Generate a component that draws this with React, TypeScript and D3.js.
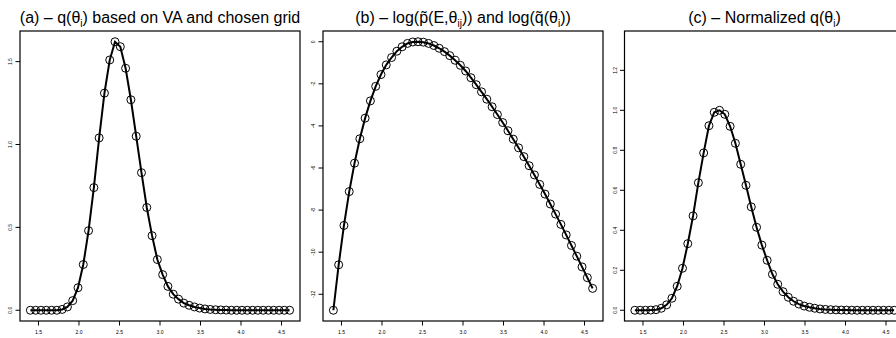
import React from "react";
import * as d3 from "d3";

// grid of theta values (50 points from 1.4 to 4.6)
const N = 50;
const thetaMin = 1.4;
const thetaMax = 4.6;
const theta: number[] = d3.range(N).map((i) => thetaMin + (i * (thetaMax - thetaMin)) / (N - 1));

// (a) q(theta_i) from VA on grid
const qVA: number[] = [
  0, 0, 0, 0, 0, 0, 0.005, 0.02, 0.058, 0.136,
  0.276, 0.48, 0.74, 1.04, 1.31, 1.51, 1.62, 1.59, 1.46, 1.27,
  1.05, 0.83, 0.62, 0.45, 0.306, 0.215, 0.144, 0.097, 0.067, 0.043,
  0.03, 0.02, 0.013, 0.008, 0.005, 0.003, 0.002, 0.001, 0, 0,
  0, 0, 0, 0, 0, 0, 0, 0, 0, 0,
];

// (b) log p~(E, theta_ij) and log q~(theta_i)
const logP: number[] = [
  -12.76, -10.6, -8.73, -7.12, -5.77, -4.61, -3.63, -2.81, -2.12, -1.56,
  -1.1, -0.75, -0.45, -0.24, -0.08, -0.01, 0.0, -0.02, -0.08, -0.18,
  -0.31, -0.47, -0.66, -0.88, -1.12, -1.39, -1.71, -2.04, -2.38, -2.73,
  -3.09, -3.46, -3.84, -4.23, -4.63, -5.04, -5.46, -5.89, -6.33, -6.78,
  -7.24, -7.71, -8.19, -8.68, -9.18, -9.68, -10.19, -10.7, -11.21, -11.72,
];
const logQ: number[] = logP.slice();

// (c) normalized q(theta_i)
const qNorm: number[] = [
  0, 0, 0, 0.001, 0.003, 0.01, 0.027, 0.06, 0.12, 0.21,
  0.333, 0.472, 0.638, 0.787, 0.923, 0.99, 1.0, 0.98, 0.92, 0.835,
  0.73, 0.625, 0.517, 0.415, 0.326, 0.25, 0.18, 0.13, 0.093, 0.065,
  0.045, 0.031, 0.021, 0.015, 0.01, 0.0065, 0.0042, 0.0028, 0.0018, 0.0011,
  0.0007, 0.0004, 0, 0, 0, 0, 0, 0, 0, 0,
];

const xTicks = [1.5, 2.0, 2.5, 3.0, 3.5, 4.0, 4.5];
const yTicksA = [0, 0.5, 1.0, 1.5];
const yTicksB = [0, -2, -4, -6, -8, -10, -12];
const yTicksC = [0, 0.2, 0.4, 0.6, 0.8, 1.0, 1.2];
const yLimC: [number, number] = [0, 1.343];

const W = 896;
const H = 338;
const TOP = 31;
const BOTTOM = 321;
const PW = 280;
const LEFTS = [20, 323, 624.5];
const FONT = "Liberation Sans, Arial, Helvetica, sans-serif";

function expand(lo: number, hi: number): [number, number] {
  const r = hi - lo;
  return [lo - 0.04 * r, hi + 0.04 * r];
}

type PanelProps = {
  left: number;
  title: React.ReactNode;
  yDomain: [number, number];
  yTicks: number[];
  yFmt: (v: number) => string;
  pts: number[];
  line: number[];
};

function Panel({ left, title, yDomain, yTicks, yFmt, pts, line }: PanelProps) {
  const x = d3.scaleLinear().domain(expand(thetaMin, thetaMax)).range([left, left + PW]);
  const y = d3.scaleLinear().domain(yDomain).range([BOTTOM, TOP]);
  const lineGen = d3
    .line<number>()
    .x((_, i) => x(theta[i]))
    .y((d) => y(d));
  const clipId = `clip-${Math.round(left)}`;
  return (
    <g>
      <defs>
        <clipPath id={clipId}>
          <rect x={left} y={TOP} width={PW} height={BOTTOM - TOP} />
        </clipPath>
      </defs>
      <text x={left + PW / 2} y={23} textAnchor="middle" fontSize={16} fontFamily={FONT} fill="#000">
        {title}
      </text>
      <g clipPath={`url(#${clipId})`}>
        <path d={lineGen(line) || ""} fill="none" stroke="#000" strokeWidth={2} />
        {pts.map((v, i) => (
          <circle key={i} cx={x(theta[i])} cy={y(v)} r={4} fill="none" stroke="#000" strokeWidth={1} />
        ))}
      </g>
      <rect x={left} y={TOP} width={PW} height={BOTTOM - TOP} fill="none" stroke="#000" strokeWidth={1.2} />
      {xTicks.map((t) => (
        <g key={t}>
          <line x1={x(t)} x2={x(t)} y1={BOTTOM} y2={BOTTOM + 4.5} stroke="#000" strokeWidth={1} />
          <text x={x(t)} y={334} textAnchor="middle" fontSize={5} fontFamily={FONT} fill="#000">
            {t.toFixed(1)}
          </text>
        </g>
      ))}
      {yTicks.map((t) => (
        <g key={t}>
          <line x1={left - 4.5} x2={left} y1={y(t)} y2={y(t)} stroke="#000" strokeWidth={1} />
          <text
            transform={`translate(${left - 8},${y(t)}) rotate(-90)`}
            textAnchor="middle"
            fontSize={5}
            fontFamily={FONT}
            fill="#000"
          >
            {yFmt(t)}
          </text>
        </g>
      ))}
    </g>
  );
}

const sub = (s: string) => (
  <tspan fontSize={10} dy={3.5}>
    {s}
  </tspan>
);
const up = (s: string) => <tspan dy={-3.5}>{s}</tspan>;

export default function App() {
  const aMax = d3.max(qVA) as number;
  const bExt = d3.extent([...logP, ...logQ]) as [number, number];
  return (
    <svg width={W} height={H} style={{ position: "absolute", left: 0, top: 0, background: "#fff" }}>
      <rect width={W} height={H} fill="#fff" />
      <Panel
        left={LEFTS[0]}
        title={
          <>
            (a) – q(θ{sub("i")}
            {up(") based on VA and chosen grid")}
          </>
        }
        yDomain={expand(0, aMax)}
        yTicks={yTicksA}
        yFmt={(v) => v.toFixed(1)}
        pts={qVA}
        line={qVA}
      />
      <Panel
        left={LEFTS[1]}
        title={
          <>
            (b) – log(p̃(E,θ{sub("ij")}
            {up(")) and log(q̃(θ")}
            {sub("i")}
            {up("))")}
          </>
        }
        yDomain={expand(bExt[0], bExt[1])}
        yTicks={yTicksB}
        yFmt={(v) => String(v)}
        pts={logP}
        line={logQ}
      />
      <Panel
        left={LEFTS[2]}
        title={
          <>
            (c) – Normalized q(θ{sub("i")}
            {up(")")}
          </>
        }
        yDomain={expand(yLimC[0], yLimC[1])}
        yTicks={yTicksC}
        yFmt={(v) => v.toFixed(1)}
        pts={qNorm}
        line={qNorm}
      />
    </svg>
  );
}
